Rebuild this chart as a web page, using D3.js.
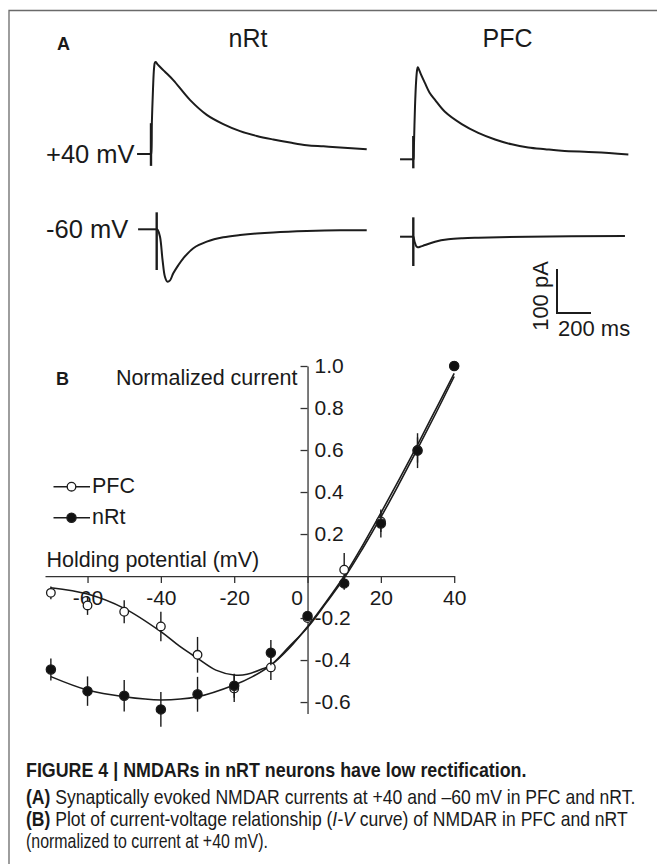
<!DOCTYPE html>
<html><head><meta charset="utf-8">
<script src="https://cdn.jsdelivr.net/npm/d3@7"></script>
<style>
body{margin:0;background:#fff}
svg{display:block}
text{font-family:"Liberation Sans",Arial,Helvetica,sans-serif;fill:#1a1a1a}
</style>
</head><body>
<svg id="c" width="657" height="864"></svg>
<script>
// ---------------- DATA ----------------
// Panel A: traces, [time ms from stimulus, current pA]
const nrtPlus40Base = [[-82,0],[-6,0]];
const nrtPlus40Resp = [[1,0],[5,70],[12,150],[18,195],[23,208],[28,209],[40,203],[82,187],[131,168],[229,123],[328,89],[425,68],[524,52],[622,41],[719,33],[818,26],[916,20],[1014,17.5],[1112,15],[1269,11]];
const nrtPlus40Artifact = [0, 70, -27];   // time, top pA, bottom pA

const nrtMinus60Base = [[-76,0],[30,0]];
const nrtMinus60Resp = [[34,0],[40,-2],[53,-17],[68,-70],[82,-108],[96,-119],[112,-116],[131,-100],[160,-82],[190,-66],[249,-43],[328,-28],[425,-18],[524,-13],[620,-9.5],[719,-7],[916,-4],[1112,-2.3],[1269,-2.3]];
const nrtMinus60Artifact = [33.5, 38.6, -92.5];

const pfcPlus40Base = [[-78,0],[-3,0]];
const pfcPlus40Resp = [[1,0],[3,20],[10,120],[17,180],[22,202],[26,209],[30,207],[45,193],[69,173],[95,152],[128,135],[186,108],[285,80],[382,60],[481,45],[579,34],[676,27],[775,23],[873,19.5],[1069,16],[1265,11]];
const pfcPlus40Artifact = [0, 53, -20.5];

const pfcMinus60Base = [[-78,0],[-3,0]];
const pfcMinus60Resp = [[1,0],[8,-12],[18,-22],[26,-24],[40,-23],[69,-19],[128,-11.4],[206,-6],[290,-3.5],[382,-2.3],[676,0],[1245,1.6]];
const pfcMinus60Artifact = [0, 44, -66.6];

const scaleBarPA = 100, scaleBarMs = 200;

// Panel B: I-V data
const voltages = [-70,-60,-50,-40,-30,-20,-10,0,10,20,30,40];
const pfcMean = [-0.08,-0.14,-0.17,-0.24,-0.375,-0.535,-0.435,-0.20,0.03,0.26,0.60,1.0];
const pfcErr  = [0.03,0.045,0.055,0.07,0.085,0.065,0.06,0.02,0.08,0.05,0.06,0];
const nrtMean = [-0.445,-0.548,-0.57,-0.635,-0.563,-0.522,-0.365,-0.19,-0.035,0.25,0.597,1.0];
const nrtErr  = [0.052,0.07,0.075,0.083,0.083,0.057,0.06,0.02,0.03,0.067,0.083,0];

const pfcFitV = [-70,-60,-50,-40,-35,-30,-25,-20,-16.5,-12,-10,-5,0,5,10,15,20,25,30,35,40];
const pfcFitI = [-0.056,-0.086,-0.154,-0.265,-0.333,-0.392,-0.448,-0.471,-0.468,-0.44,-0.424,-0.344,-0.241,-0.125,0.0,0.145,0.30,0.46,0.625,0.795,0.965];
const nrtFitV = [-70,-60,-50,-40,-30,-20,-15,-10,-5,0,5,10,15,20,25,30,35,40];
const nrtFitI = [-0.479,-0.543,-0.575,-0.59,-0.575,-0.519,-0.479,-0.424,-0.336,-0.245,-0.13,-0.01,0.13,0.28,0.44,0.605,0.775,0.95];

const xTicks = [-60,-40,-20,0,20,40];
const yTicks = [-0.6,-0.4,-0.2,0.2,0.4,0.6,0.8,1.0];
const seriesNames = ["PFC","nRt"];

// ---------------- DRAW ----------------
const svg = d3.select("#c");
const ink = "#1c1c1c";

// frame
svg.append("path").attr("d","M9,864V10.5H657").attr("fill","none").attr("stroke","#6a6a6a").attr("stroke-width",1.3);

// ===== Panel A =====
svg.append("text").attr("x",57).attr("y",50).attr("font-size",18).attr("font-weight","bold").text("A");
svg.append("text").attr("x",248).attr("y",46.5).attr("font-size",25).attr("text-anchor","middle").text("nRt");
svg.append("text").attr("x",507.5).attr("y",46.5).attr("font-size",25).attr("text-anchor","middle").text("PFC");
svg.append("text").attr("x",46).attr("y",162.5).attr("font-size",25.5).text("+40 mV");
svg.append("text").attr("x",46).attr("y",237.5).attr("font-size",25.5).text("-60 mV");

const tS = d3.scaleLinear().domain([0,200]).range([0,34]);
const iS = d3.scaleLinear().domain([0,100]).range([0,-44]);

const traces = [
  {base:nrtPlus40Base, resp:nrtPlus40Resp, art:nrtPlus40Artifact, x0:151, y0:154},
  {base:nrtMinus60Base, resp:nrtMinus60Resp, art:nrtMinus60Artifact, x0:151, y0:229.3},
  {base:pfcPlus40Base, resp:pfcPlus40Resp, art:pfcPlus40Artifact, x0:413.3, y0:159.3},
  {base:pfcMinus60Base, resp:pfcMinus60Resp, art:pfcMinus60Artifact, x0:413.3, y0:236.7}
];
const lin = d3.line().x(d=>tS(d[0])).y(d=>iS(d[1]));
const smooth = d3.line().x(d=>tS(d[0])).y(d=>iS(d[1])).curve(d3.curveCatmullRom.alpha(0.5));
traces.forEach(tr=>{
  const g = svg.append("g").attr("transform",`translate(${tr.x0},${tr.y0})`);
  g.append("path").attr("d",lin(tr.base.concat([[tr.art[0],0]]))).attr("fill","none").attr("stroke",ink).attr("stroke-width",2);
  g.append("line").attr("x1",tS(tr.art[0])).attr("x2",tS(tr.art[0]))
    .attr("y1",iS(tr.art[1])).attr("y2",iS(tr.art[2])).attr("stroke",ink).attr("stroke-width",2.4);
  g.append("path").attr("d",smooth([[tr.art[0],0]].concat(tr.resp))).attr("fill","none").attr("stroke",ink).attr("stroke-width",2).attr("stroke-linejoin","round");
});

// scale bar
const sb = svg.append("g").attr("transform","translate(557,313)");
sb.append("path").attr("d",`M0,${iS(scaleBarPA)}V0H${tS(scaleBarMs)}`).attr("fill","none").attr("stroke",ink).attr("stroke-width",2);
svg.append("text").attr("transform","translate(548,296) rotate(-90)").attr("text-anchor","middle").attr("font-size",22).text("100 pA");
svg.append("text").attr("x",558).attr("y",336).attr("font-size",22).text("200 ms");

// ===== Panel B =====
const x = d3.scaleLinear().domain([-71.6,40]).range([45,454.2]);
const y = d3.scaleLinear().domain([-0.655,1.0]).range([713.6,366]);

svg.append("text").attr("x",56).attr("y",384.5).attr("font-size",18).attr("font-weight","bold").text("B");
svg.append("text").attr("x",297.5).attr("y",384.5).attr("font-size",21.5).attr("text-anchor","end").text("Normalized current");
svg.append("text").attr("x",46.5).attr("y",566.5).attr("font-size",21.5).text("Holding potential (mV)");

const xAxis = svg.append("g").attr("transform",`translate(0,${y(0)})`)
  .call(d3.axisBottom(x).tickValues(xTicks).tickSize(7).tickSizeOuter(0).tickPadding(7).tickFormat(d=>String(d)));
const yAxis = svg.append("g").attr("transform",`translate(${x(0)},0)`)
  .call(d3.axisRight(y).tickValues(yTicks).tickSizeInner(-7).tickSizeOuter(0).tickPadding(7).tickFormat(d=>d.toFixed(1)));
[xAxis,yAxis].forEach(a=>{
  a.attr("font-family",null).attr("font-size",null);
  a.selectAll("path,line").attr("stroke","#333").attr("stroke-width",1.3);
  a.selectAll("text").attr("font-size",21).attr("fill","#1a1a1a");
});
xAxis.selectAll(".tick").filter(d=>d===0).select("text").attr("x",-11);

// fitted curves
const fitLine = d3.line().x(d=>x(d[0])).y(d=>y(d[1])).curve(d3.curveCatmullRom.alpha(0.5));
svg.append("path").attr("d",fitLine(d3.zip(pfcFitV,pfcFitI))).attr("fill","none").attr("stroke",ink).attr("stroke-width",1.6);
svg.append("path").attr("d",fitLine(d3.zip(nrtFitV,nrtFitI))).attr("fill","none").attr("stroke",ink).attr("stroke-width",1.6);

// error bars and points
function drawSeries(mean, err, filled){
  const d = voltages.map((v,i)=>({v, m:mean[i], e:err[i]}));
  svg.append("g").selectAll("line").data(d).join("line")
    .attr("x1",p=>x(p.v)).attr("x2",p=>x(p.v))
    .attr("y1",p=>y(p.m-p.e)).attr("y2",p=>y(p.m+p.e))
    .attr("stroke",ink).attr("stroke-width",1.4);
  svg.append("g").selectAll("circle").data(d).join("circle")
    .attr("cx",p=>x(p.v)).attr("cy",p=>y(p.m)).attr("r",filled?4.6:4.3)
    .attr("fill",filled?"#111":"#fff").attr("stroke",ink).attr("stroke-width",1.3);
}
drawSeries(pfcMean,pfcErr,false);
drawSeries(nrtMean,nrtErr,true);

// legend
const leg = [{name:seriesNames[0],filled:false,y:486.7},{name:seriesNames[1],filled:true,y:517.7}];
leg.forEach(l=>{
  svg.append("line").attr("x1",53.5).attr("x2",90).attr("y1",l.y).attr("y2",l.y).attr("stroke",ink).attr("stroke-width",1.4);
  svg.append("circle").attr("cx",71.5).attr("cy",l.y).attr("r",l.filled?4.6:4.3)
    .attr("fill",l.filled?"#111":"#fff").attr("stroke",ink).attr("stroke-width",1.3);
  svg.append("text").attr("x",92).attr("y",l.y+6).attr("font-size",21.5).text(l.name);
});

// ===== Caption =====
function fitText(t, x0, y0, w){
  const n = t.node().getComputedTextLength();
  t.attr("transform",`translate(${x0},${y0}) scale(${w/n},1)`);
}
const cap1 = svg.append("text").attr("font-size",20).attr("font-weight","bold").text("FIGURE 4 | NMDARs in nRT neurons have low rectification.");
fitText(cap1,26,777,501);
const cap2 = svg.append("text").attr("font-size",20.5);
cap2.append("tspan").attr("font-weight","bold").text("(A)");
cap2.append("tspan").text(" Synaptically evoked NMDAR currents at +40 and \u201360 mV in PFC and nRT.");
fitText(cap2,26,804,610);
const cap3 = svg.append("text").attr("font-size",20.5);
cap3.append("tspan").attr("font-weight","bold").text("(B)");
cap3.append("tspan").text(" Plot of current-voltage relationship (");
cap3.append("tspan").attr("font-style","italic").text("I-V");
cap3.append("tspan").text(" curve) of NMDAR in PFC and nRT");
fitText(cap3,26,826,602);
const cap4 = svg.append("text").attr("font-size",20.5).text("(normalized to current at +40 mV).");
fitText(cap4,26,848,242);
</script>
</body></html>
